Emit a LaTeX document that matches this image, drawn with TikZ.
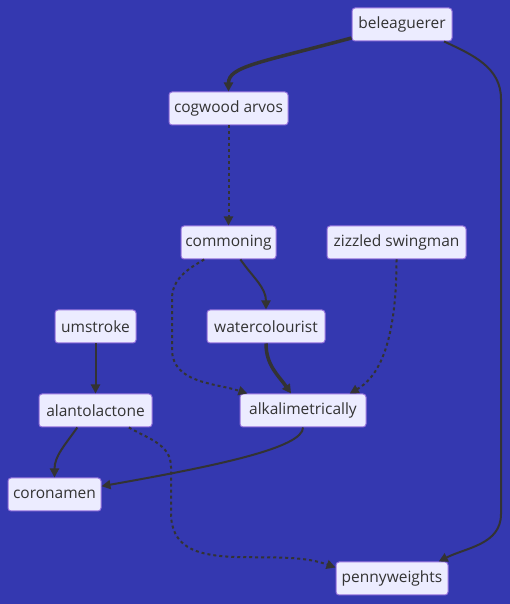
\documentclass[tikz,border=0pt]{standalone}
\usepackage{fontspec}
\setmainfont{Open Sans}
\usetikzlibrary{arrows.meta,positioning}
\definecolor{bgblue}{RGB}{52,56,176}
\definecolor{nodefill}{RGB}{236,236,255}
\definecolor{nodeline}{RGB}{147,112,219}
\definecolor{edgegray}{RGB}{51,51,51}

\begin{document}
\begin{tikzpicture}[x=1pt,y=1pt,>={Triangle[length=9pt,width=9pt]},node distance=84pt,
    chart node/.style={rectangle,draw=nodeline,fill=nodefill,rounded corners=3pt,line width=1pt,
      minimum height=33pt,inner sep=0pt,text=edgegray,font=\fontsize{15.5pt}{18pt}\selectfont},
    link/.style={->,draw=edgegray,line width=2pt},
    heavy link/.style={->,draw=edgegray,line width=3.5pt},
    dot link/.style={->,draw=edgegray,line width=2pt,dash pattern=on 3pt off 3pt}]

  \fill[bgblue] (0,0) rectangle (510,604);

  \node[chart node,minimum width=100pt] (bel) at (402,579.5) {beleaguerer};
  \node[chart node,minimum width=119pt] (cog) at (228.5,495.5) {cogwood arvos};
  \node[chart node,minimum width=95pt] (com) [below of=cog,node distance=134pt] {commoning};
  \node[chart node,minimum width=139pt] (ziz) at (396.5,361.5) {zizzled swingman};
  \node[chart node,minimum width=81pt] (ums) at (95.5,277.5) {umstroke};
  \node[chart node,minimum width=118pt] (wat) at (266,277.5) {watercolourist};
  \node[chart node,minimum width=113pt] (ala) [below of=ums] {alantolactone};
  \node[chart node,minimum width=126pt] (alk) at (303,193.5) {alkalimetrically};
  \node[chart node,minimum width=93pt] (cor) at (54.5,109.5) {coronamen};
  \node[chart node,minimum width=112pt] (pen) at (392,25.5) {pennyweights};

  \path
    (bel) edge[heavy link,out=195,in=90,out distance=95pt,in distance=25pt] (cog)
    (cog) edge[dot link] (com)
    (com) edge[link,out=-55,in=90] (wat)
    (wat) edge[heavy link,out=-90,in=125] (alk)
    (ziz.south) edge[dot link,out=-90,in=30,out distance=90pt,in distance=30pt] (alk.20)
    (ums) edge[link] (ala)
    (ala.223) edge[link,out=235,in=90] (cor.north)
    (alk.south) edge[link,out=-90,in=10,out distance=20pt,in distance=120pt] (cor.10);

  % long ones with a straight stretch
  \draw[link] (bel.-22) to[out=-25,in=90] (501,505) -- (501,90) to[out=-90,in=27] (pen.20);
  \draw[dot link] (com.215) to[out=210,in=90] (172,305) -- (172,255) to[out=-90,in=162] (alk.163);
  \draw[dot link] (ala.-27) to[out=-30,in=90] (171,137) -- (171,91) to[out=-90,in=160] (pen.169);
\end{tikzpicture}
\end{document}
